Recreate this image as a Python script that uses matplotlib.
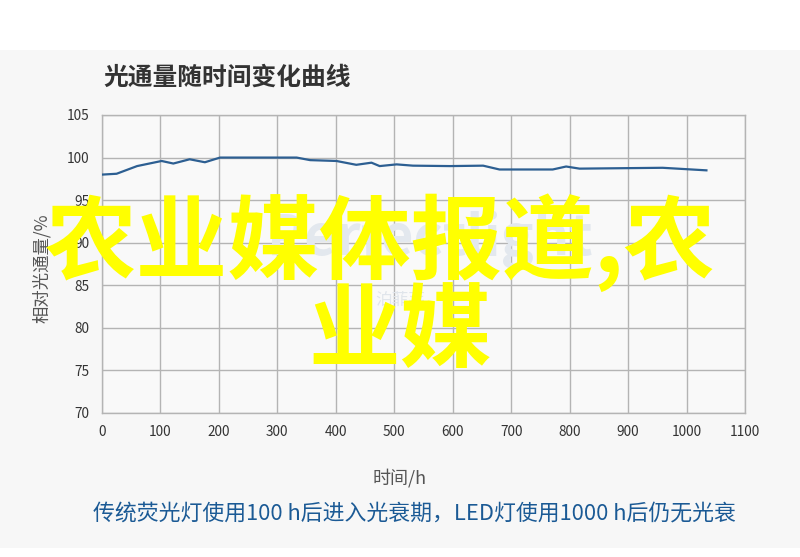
import matplotlib
matplotlib.use("Agg")
import matplotlib.pyplot as plt
from matplotlib.patches import Rectangle

plt.rcParams['font.family'] = ['Noto Sans CJK SC', 'DejaVu Sans']

# Data
hours = [0, 25, 60, 102, 122, 150, 176, 202, 260, 333, 356, 401, 435, 461, 475,
         504, 532, 595, 652, 680, 771, 794, 817, 959, 1034]
flux = [98.0, 98.1, 99.0, 99.6, 99.3, 99.8, 99.45, 100.0, 100.0, 100.0, 99.7, 99.6,
        99.15, 99.4, 99.0, 99.2, 99.05, 99.0, 99.05, 98.6, 98.6, 98.95, 98.7, 98.8, 98.5]
xticks = list(range(0, 1101, 100))
yticks = list(range(70, 106, 5))

title = "光通量随时间变化曲线"
xlabel = "时间/h"
ylabel = "相对光通量/%"
caption = "传统荧光灯使用100 h后进入光衰期，LED灯使用1000 h后仍无光衰"
overlay1 = "农业媒体报道,农"
overlay2 = "业媒"

W, H = 800, 557
fig = plt.figure(figsize=(W / 100, H / 100), dpi=100)
fig.patch.set_facecolor('white')

# light gray panel
fig.patches.append(Rectangle((0, 1 - 548 / H), 1, (548 - 50) / H, transform=fig.transFigure,
                             facecolor='#f7f7f7', edgecolor='none', zorder=-10))

ax = fig.add_axes([102 / W, 1 - 413 / H, (745 - 102) / W, (413 - 115) / H])
ax.set_zorder(1)
ax.set_facecolor('#f9f9f9')
ax.plot(hours, flux, color='#2d5f92', lw=1.6, zorder=3, solid_joinstyle='round')
ax.set_xlim(0, 1100)
ax.set_ylim(70, 105)
ax.set_xticks(xticks)
ax.set_yticks(yticks)
ax.grid(True, color='#b4b4b4', lw=1.0)
ax.set_axisbelow(True)
for s in ax.spines.values():
    s.set_color('#b4b4b4')
    s.set_linewidth(1.0)
ax.tick_params(length=0, labelsize=9.8, colors='#333333', pad=9)

fig.text(103 / W, 1 - 78 / H, title, fontsize=17.8, fontweight='bold', color='#333333',
         ha='left', va='center')
fig.text(400 / W, 1 - 478 / H, xlabel, fontsize=13, color='#555555', ha='center', va='center')
fig.text(42 / W, 1 - 268 / H, ylabel, fontsize=12.5, color='#555555', ha='center', va='center',
         rotation=90)
fig.text(414 / W, 1 - 514 / H, caption, fontsize=15.75, color='#1b5a95', ha='center',
         va='center')

# faint watermark
fig.text(430 / W, 1 - 240 / H, "Perfectlight", fontsize=40, color='#e3e8ee', ha='center',
         va='center', fontweight='bold', zorder=2)
fig.text(400 / W, 1 - 300 / H, "泊菲莱", fontsize=12, color='#e0e5eb', ha='center',
         va='center', zorder=2)

# yellow overlay text
fig.text(380 / W, 1 - 243 / H, overlay1, fontsize=66, color='#ffff00', ha='center',
         va='center', fontweight='bold', zorder=10)
fig.text(400 / W, 1 - 333 / H, overlay2, fontsize=66, color='#ffff00', ha='center',
         va='center', fontweight='bold', zorder=10)

fig.savefig('out.png', dpi=100, facecolor='white')
